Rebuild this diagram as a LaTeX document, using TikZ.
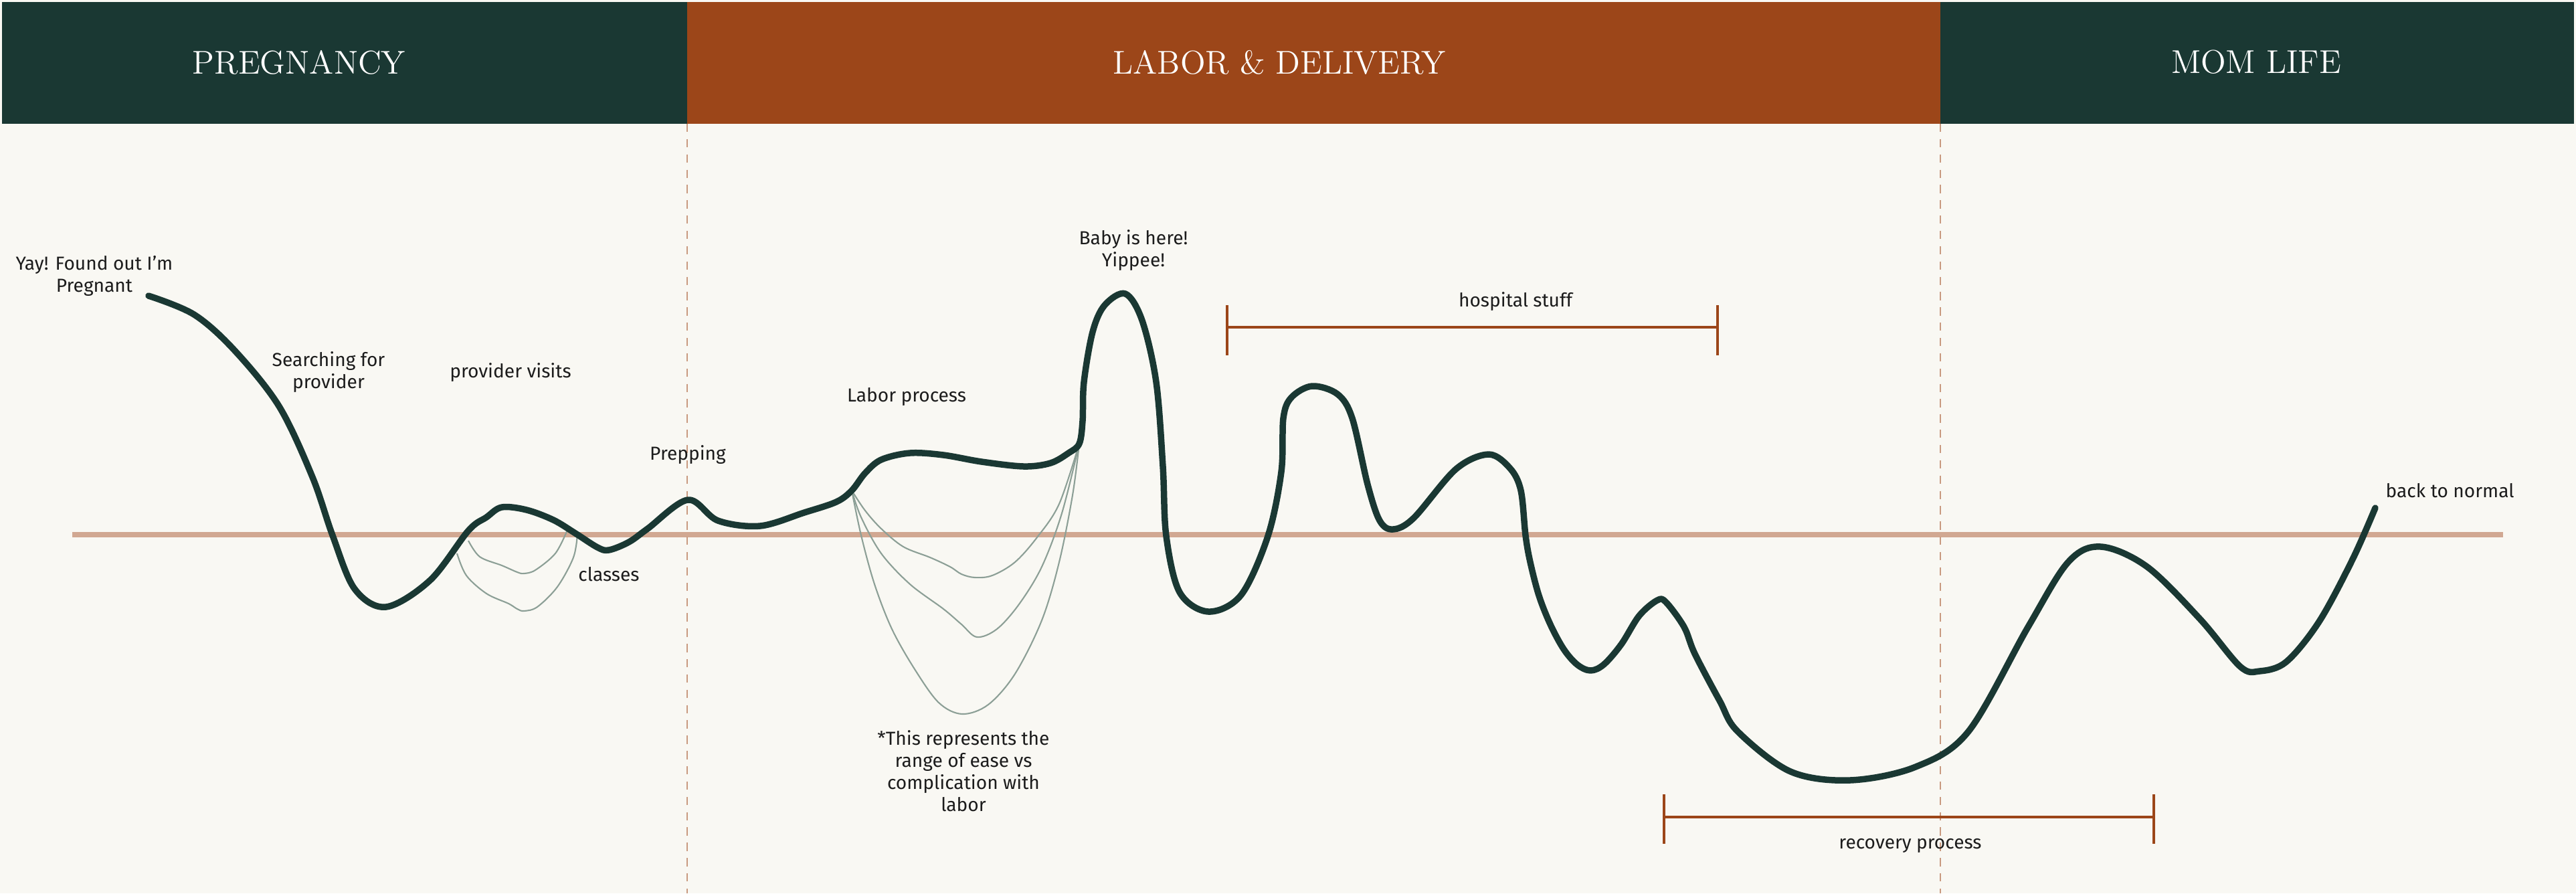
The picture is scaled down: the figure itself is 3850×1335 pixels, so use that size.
\documentclass[tikz,border=0pt]{standalone}
\usepackage{fontspec}
\setsansfont{Fira Sans}
\usetikzlibrary{calc}

\definecolor{bgcream}{HTML}{F9F8F3}
\definecolor{deepgreen}{HTML}{1A3833}
\definecolor{rust}{HTML}{9C4619}
\definecolor{peach}{HTML}{D1A892}
\definecolor{dashpeach}{HTML}{C99A80}
\definecolor{sage}{HTML}{8C9F96}
\definecolor{inkgray}{HTML}{1C1C1C}

\tikzset{
    phase/.style={text=white, font=\rmfamily\fontsize{14}{16}\selectfont},
    lbl/.style={text=inkgray, font=\sffamily\fontsize{8}{9.4}\selectfont, align=center, inner sep=0pt},
    journey/.style={deepgreen, line width=2.7pt, line cap=round, line join=round},
    labrange/.style={sage, line width=0.6pt},
    spanbar/.style={rust, line width=1.3pt},
    spantick/.style={rust, line width=0.9pt},
    divider/.style={dashpeach, line width=0.7pt, dash pattern=on 3.5pt off 3pt},
}

\begin{document}
\begin{tikzpicture}[x=0.01cm, y=-0.01cm]
        \useasboundingbox (0,0) rectangle (3850,1335);
        \fill[bgcream] (0,0) rectangle (3850,1335);

        % header
        \fill[deepgreen] (3,3) rectangle (1027,185);
        \fill[rust] (1027,3) rectangle (2900,185);
        \fill[deepgreen] (2900,3) rectangle (3847,185);
        \node[phase] (preg) at (447,93) {PREGNANCY};
        \node[phase] (labdel) at (1912,93) {LABOR \& DELIVERY};
        \node[phase] (momlife) at (3372,93) {MOM LIFE};

        % zero line and phase borders
        \draw[peach, line width=2.1pt] (108,799) -- (3741,799);
        \draw[divider] (1027,185) -- (1027,1335);
        \draw[divider] (2900,185) -- (2900,1335);

        % fan of labor outcomes
        \coordinate (labstart) at (1273,733);
        \coordinate (labend) at (1613,663);
        \draw[labrange] plot[smooth, tension=0.55] coordinates {(labstart) (1293,763) (1317,790) (1350,817) (1390,833) (1420,847) (1437,858) (1457,863) (1483,860) (1517,840) (1550,803) (1583,753) (labend)};
        \draw[labrange] plot[smooth, tension=0.55] coordinates {(labstart) (1287,773) (1317,827) (1360,873) (1410,910) (1437,933) (1460,952) (1490,940) (1523,903) (1557,847) (1587,767) (labend)};
        \draw[labrange] plot[smooth, tension=0.55] coordinates {(labstart) (1287,800) (1307,873) (1333,940) (1367,1000) (1403,1050) (1438,1067) (1477,1053) (1517,1007) (1557,927) (1583,840) (1603,740) (labend)};

        % classes
        \draw[labrange] plot[smooth, tension=0.55] coordinates {(700,808) (717,832) (750,845) (773,855) (783,857) (800,852) (830,827) (848,792)};
        \draw[labrange] plot[smooth, tension=0.55] coordinates {(683,827) (697,860) (727,887) (760,902) (773,910) (783,913) (803,907) (833,877) (857,833) (863,798)};

        % the journey
        \draw[journey] plot[smooth, tension=0.55] coordinates {
            (222,442) (290,470) (350,523) (417,607) (467,713) (497,800)
            (530,880) (577,907) (643,867) (700,793) (727,773) (750,758)
            (787,762) (827,777) (860,797) (893,818) (910,822) (940,810)
            (968,790) (1028,747) (1073,778) (1136,786) (1202,766) (1250,750)
            (labstart) (1293,707) (1317,687) (1360,677) (1410,680) (1467,690)
            (1530,697) (1570,692) (1597,677) (labend) (1618,629) (1620,571)
            (1633,496) (1651,456) (1682,439) (1707,479) (1728,571) (1738,697)
            (1743,801) (1763,885) (1806,914) (1855,889) (1895,801) (1915,705)
            (1918,625) (1930,594) (1961,577) (1999,589) (2021,625) (2044,724)
            (2062,778) (2082,791) (2113,774) (2176,701) (2225,679) (2257,700)
            (2273,733) (2280,800) (2287,840) (2300,890) (2317,933) (2337,970)
            (2357,993) (2377,1002) (2397,993) (2423,963) (2450,920) (2477,897)
            (2490,900) (2517,937) (2533,977) (2570,1047) (2597,1093) (2676,1153)
            (2765,1166) (2863,1146) (2942,1093) (3031,937) (3091,840) (3140,817)
            (3209,847) (3288,925) (3348,996) (3377,1003) (3417,989) (3466,929)
            (3516,836) (3550,759)};

        % spans
        \coordinate (hospl) at (1834,489);
        \coordinate (hospr) at (2567,489);
        \draw[spanbar] (hospl) -- (hospr);
        \draw[spantick] ($(hospl)+(0,-33)$) -- ($(hospl)+(0,42)$);
        \draw[spantick] ($(hospr)+(0,-33)$) -- ($(hospr)+(0,42)$);
        \coordinate (recl) at (2487,1221);
        \coordinate (recr) at (3219,1221);
        \draw[spanbar] (recl) -- (recr);
        \draw[spantick] ($(recl)+(0,-34)$) -- ($(recl)+(0,40)$);
        \draw[spantick] ($(recr)+(0,-34)$) -- ($(recr)+(0,40)$);

        % labels
        \node[lbl] (yay) at (141,412) {Yay! Found out I’m\\Pregnant};
        \node[lbl] (search) at (491,556) {Searching for\\provider};
        \node[lbl] (visits) at (763,557) {provider visits};
        \node[lbl] (classes) at (910,858) {classes};
        \node[lbl] (prep) at (1028,680) {Prepping};
        \node[lbl] (labor) at (1355,593) {Labor process};
        \node[lbl] (baby) at (1694,374) {Baby is here!\\Yippee!};
        \node[lbl] (note) at (1440,1152) {*This represents the\\range of ease vs\\complication with\\labor};
        \node[lbl] (hosp) at (2265,451) {hospital stuff};
        \node[lbl] (recov) at (2855,1264) {recovery process};
        \node[lbl, anchor=west] (normal) at (3565,733) {back to normal};
\end{tikzpicture}
\end{document}
